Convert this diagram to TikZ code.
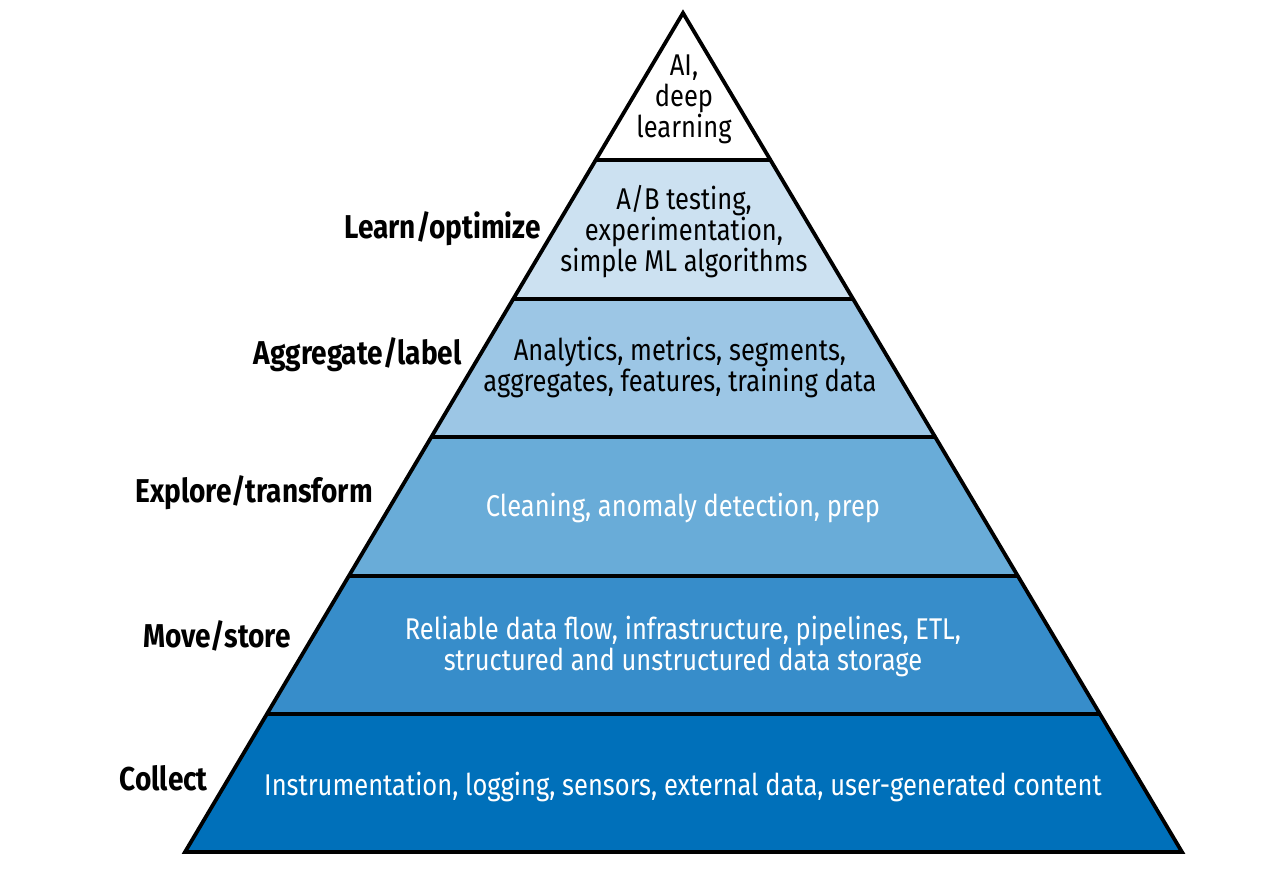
\documentclass[tikz,border=0pt]{standalone}
\usepackage{fontspec}
\setmainfont{Fira Sans}[FakeStretch=0.85]
\begin{document}
\begin{tikzpicture}[x=1pt,y=-1pt,
  band/.style={draw=black,line width=3.8pt,line join=miter},
  intxt/.style={align=center,font=\fontsize{30}{31}\selectfont,inner sep=0pt},
  lbl/.style={anchor=east,font=\fontsize{33}{36}\selectfont\bfseries,inner sep=0pt}]
\definecolor{c1}{HTML}{FFFFFF}
\definecolor{c2}{HTML}{CCE1F1}
\definecolor{c3}{HTML}{9CC6E5}
\definecolor{c4}{HTML}{69ACD8}
\definecolor{c5}{HTML}{378DCA}
\definecolor{c6}{HTML}{0070BA}
\useasboundingbox (0,0) rectangle (1286,870);
\pgfmathsetmacro{\kl}{498/839}
\pgfmathsetmacro{\kr}{499/839}
\foreach \ya/\yb/\col in {13/160/c1,160/299/c2,299/437/c3,437/576/c4,576/714/c5,714/852/c6}{
  \pgfmathsetmacro{\xla}{683-(\ya-13)*\kl}
  \pgfmathsetmacro{\xlb}{683-(\yb-13)*\kl}
  \pgfmathsetmacro{\xra}{683+(\ya-13)*\kr}
  \pgfmathsetmacro{\xrb}{683+(\yb-13)*\kr}
  \fill[\col] (\xla,\ya) -- (\xra,\ya) -- (\xrb,\yb) -- (\xlb,\yb) -- cycle;
}
\foreach \y in {160,299,437,576,714}{
  \pgfmathsetmacro{\xl}{683-(\y-13)*\kl}
  \pgfmathsetmacro{\xr}{683+(\y-13)*\kr}
  \draw[line width=3.8pt] (\xl,\y) -- (\xr,\y);
}
\draw[band] (683,13) -- (1182,852) -- (185,852) -- cycle;
\node[intxt] (t1) at (684,99) {AI,\\deep\\learning};
\node[intxt] (t2) at (684,232) {A/B testing,\\experimentation,\\simple ML algorithms};
\node[intxt] (t3) at (680,367) {Analytics, metrics, segments,\\aggregates, features, training data};
\node[intxt,text=white] (t4) at (683,508) {Cleaning, anomaly detection, prep};
\node[intxt,text=white] (t5) at (683,646) {Reliable data flow, infrastructure, pipelines, ETL,\\structured and unstructured data storage};
\node[intxt,text=white] (t6) at (683,787) {Instrumentation, logging, sensors, external data, user-generated content};
\node[lbl] (l2) at (541,229) {Learn/optimize};
\node[lbl] (l3) at (462,355) {Aggregate/label};
\node[lbl] (l4) at (373,493) {Explore/transform};
\node[lbl] (l5) at (291,636) {Move/store};
\node[lbl] (l6) at (208,778) {Collect};
\end{tikzpicture}
\end{document}
